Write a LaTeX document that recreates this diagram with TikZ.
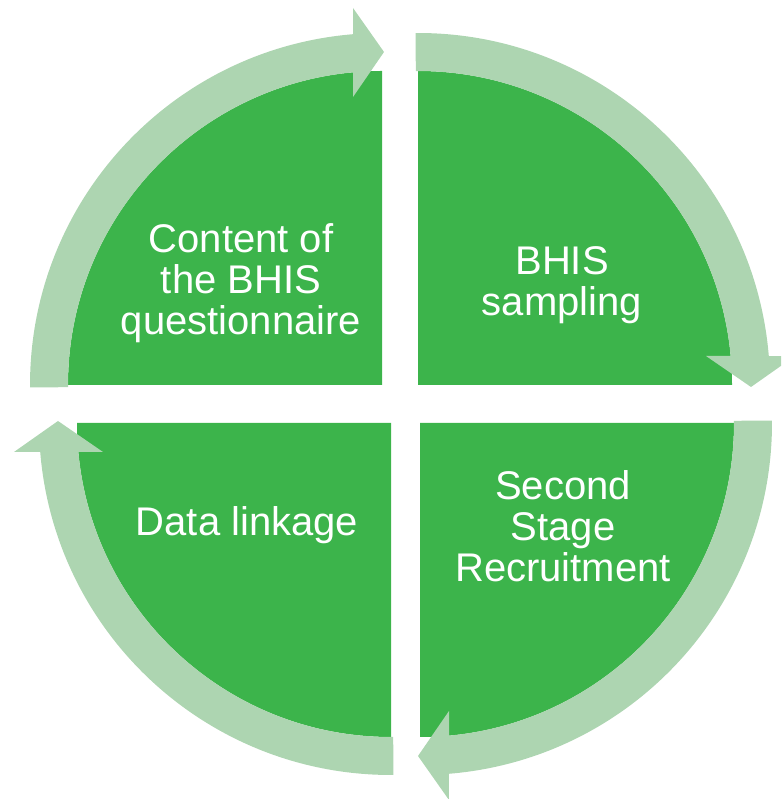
\documentclass[tikz,border=0pt]{standalone}
\usepackage{fontspec}
\setmainfont{Liberation Sans}
\definecolor{dkgreen}{HTML}{3CB44B}
\definecolor{ltgreen}{HTML}{ADD5B1}
\tikzset{
  piefill/.style={fill=dkgreen},
  bandfill/.style={fill=ltgreen},
  quadlabel/.style={text=white, align=center, inner sep=0pt, font=\fontsize{40}{41}\selectfont},
  cyclequad/.pic={
    \fill[piefill] (0,0) -- (90:314) arc[start angle=90, end angle=180, radius=314] -- cycle;
    \fill[bandfill] (180.4:352) arc[start angle=180.4, end angle=94.7, radius=352]
      -- (-29,377) -- (2,333) -- (-29,288) -- (95.3:314)
      arc[start angle=95.3, end angle=180.4, radius=314] -- cycle;
  }
}
\begin{document}
\begin{tikzpicture}[x=1pt, y=1pt]
  \useasboundingbox (0,0) rectangle (781,799);
  \clip (0,0) rectangle (781,799);
  \pic[rotate=0] (tl) at (382,414) {cyclequad};
  \pic[rotate=-90] (tr) at (418,414) {cyclequad};
  \pic[rotate=-180] (br) at (420,376) {cyclequad};
  \pic[rotate=90] (bl) at (391,376) {cyclequad};
  \node[quadlabel] (content) at (241,516) {Content of\\the BHIS\\questionnaire};
  \node[quadlabel] (sampling) at (562,514) {BHIS\\sampling};
  \node[quadlabel] (recruit) at (563,273) {Second\\Stage\\Recruitment};
  \node[quadlabel] (linkage) at (247,274) {Data linkage};
\end{tikzpicture}
\end{document}
